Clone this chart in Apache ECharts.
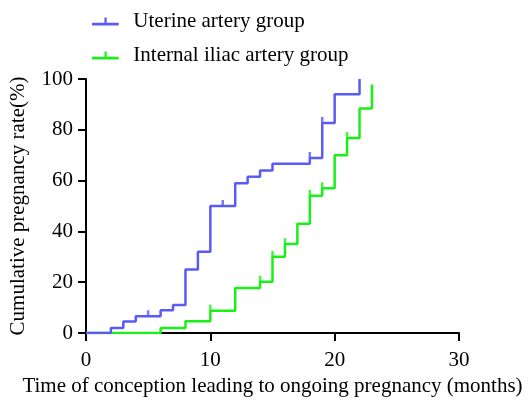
<!DOCTYPE html>
<html>
<head>
<meta charset="utf-8">
<script src="https://cdn.jsdelivr.net/npm/echarts@6/dist/echarts.min.js"></script>
<style>
  html, body { margin: 0; padding: 0; background: #fff; }
  #chart { width: 531px; height: 402px; }
</style>
</head>
<body>
<div id="chart"></div>
<script>
// step curves: [month, cumulative %]
const uterineSteps = [[0, 0], [2, 2], [3, 4.5], [4, 6.6], [6, 9], [7, 11], [8, 25], [9, 32], [10, 50],
  [12, 59], [13, 61.5], [14, 64], [15, 66.6], [18, 68.9], [19, 82.7], [20, 94], [22, 94], [22, 100]];
const uterineCensored = [[5, 6.6], [11, 50], [18, 68.9], [19, 82.7]];

const iliacSteps = [[0, 0], [6, 2], [8, 4.6], [10, 8.8], [12, 17.7], [14, 20.2], [15, 30], [16, 35],
  [17, 43], [18, 54], [19, 57], [20, 70], [21, 76.8], [22, 88.4], [23, 88.4], [23, 97.8]];
const iliacCensored = [[10, 8.8], [14, 20.2], [15, 30], [16, 35], [18, 54], [19, 57], [21, 76.8]];

const xTicks = [0, 10, 20, 30];
const yTicks = [0, 20, 40, 60, 80, 100];

const blue = '#5a5af5';
const green = '#18f018';
const font = '"Liberation Serif", "Times New Roman", serif';
const legendIcon = 'path://M0,6 L30,6 L30,9 L0,9 Z M14,0 L16.5,0 L16.5,7 L14,7 Z';

const chart = echarts.init(document.getElementById('chart'));

const axisCommon = {
  axisLine: { lineStyle: { color: '#000', width: 2 } },
  axisTick: { show: true, length: 8, lineStyle: { color: '#000', width: 2 } },
  splitLine: { show: false },
  axisLabel: { color: '#000', fontFamily: font, fontSize: 21 },
  nameTextStyle: { color: '#000', fontFamily: font, fontSize: 21 }
};

chart.setOption({
  animation: false,
  backgroundColor: '#fff',
  grid: { left: 85, right: 72, top: 79, bottom: 69 },
  legend: {
    orient: 'vertical',
    left: 87,
    top: 6,
    itemGap: 13,
    itemWidth: 28,
    itemHeight: 8,
    textStyle: { color: '#000', fontFamily: font, fontSize: 21, padding: [0, 0, 0, 9] },
    data: [
      { name: 'Uterine artery group', icon: legendIcon },
      { name: 'Internal iliac artery group', icon: legendIcon }
    ]
  },
  xAxis: Object.assign({}, axisCommon, {
    type: 'value',
    min: xTicks[0],
    max: xTicks[xTicks.length - 1],
    interval: 10,
    name: 'Time of conception leading to ongoing pregnancy (months)',
    nameLocation: 'middle',
    nameGap: 40,
    axisLabel: Object.assign({}, axisCommon.axisLabel, { margin: 17 })
  }),
  yAxis: Object.assign({}, axisCommon, {
    type: 'value',
    min: yTicks[0],
    max: yTicks[yTicks.length - 1],
    interval: 20,
    name: 'Cumulative pregnancy rate(%)',
    nameLocation: 'middle',
    nameGap: 57,
    axisLabel: Object.assign({}, axisCommon.axisLabel, { margin: 13 })
  }),
  series: [
    {
      name: 'Uterine artery group',
      type: 'line',
      step: 'end',
      data: uterineSteps,
      showSymbol: false,
      color: blue,
      lineStyle: { width: 2.5, color: blue },
      z: 3
    },
    {
      name: 'Internal iliac artery group',
      type: 'line',
      step: 'end',
      data: iliacSteps,
      showSymbol: false,
      color: green,
      lineStyle: { width: 2.5, color: green },
      z: 2
    },
    {
      name: 'Uterine artery group',
      type: 'scatter',
      data: uterineCensored,
      symbol: 'rect',
      symbolSize: [2.5, 6],
      symbolOffset: [0, -3],
      itemStyle: { color: blue },
      z: 3
    },
    {
      name: 'Internal iliac artery group',
      type: 'scatter',
      data: iliacCensored,
      symbol: 'rect',
      symbolSize: [2.5, 6],
      symbolOffset: [0, -3],
      itemStyle: { color: green },
      z: 2
    }
  ]
});
</script>
</body>
</html>
